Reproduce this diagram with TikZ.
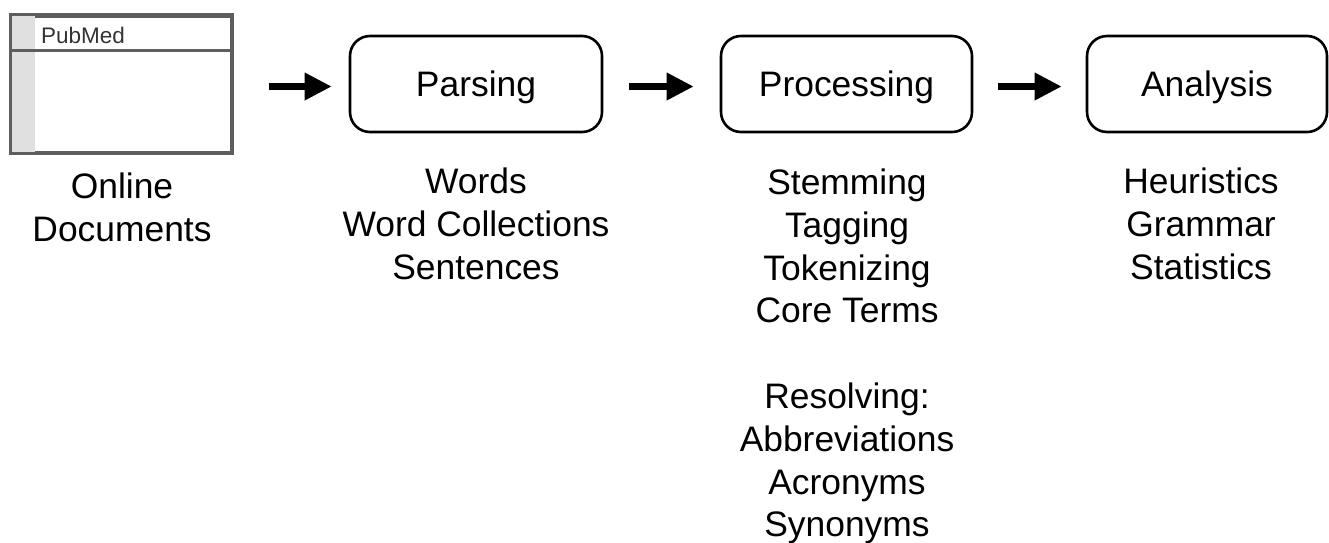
\documentclass[tikz,border=0pt]{standalone}
\usepackage{fontspec}
\setmainfont{Liberation Sans}
\usetikzlibrary{arrows.meta}
\definecolor{docgray}{HTML}{5E5E5E}
\definecolor{stripgray}{HTML}{E0E0E0}
\definecolor{pubtext}{HTML}{333333}
\tikzset{
  stepbox/.style={draw=black, line width=2.6pt, rounded corners=20pt, minimum height=96pt,
    inner sep=0pt, text height=25pt, text depth=0pt, font=\fontsize{35.4}{42.8}\selectfont},
  docbox/.style={draw=docgray, line width=3pt, minimum width=219pt, minimum height=136pt, inner sep=0pt},
  listtext/.style={anchor=north, align=center, inner sep=0pt, font=\fontsize{35.4}{42.8}\selectfont},
  flow/.style={line width=6.5pt, -{Triangle[length=27pt,width=26pt]}},
}
\begin{document}
\begin{tikzpicture}[x=1pt,y=-1pt]
\useasboundingbox (0,0) rectangle (1329,542);
% document icon
\node[docbox] (doc) at (121.5,84) {};
\fill[stripgray] ([xshift=1.5pt,yshift=-1.5pt]doc.north west) rectangle ([xshift=24pt,yshift=1.5pt]doc.south west);
\draw[docgray, line width=3pt] (doc.north west) rectangle (doc.south east);
\draw[docgray, line width=2.5pt] ([yshift=-36pt]doc.north west) -- ([yshift=-36pt]doc.north east);
\node[anchor=base west, inner sep=0pt, text=pubtext, font=\fontsize{22.5}{27}\selectfont] (pubmed) at (41,43) {PubMed};
% step boxes
\node[stepbox, minimum width=252pt] (parsing) at (476,84) {Parsing};
\node[stepbox, minimum width=251pt] (processing) at (846.5,84) {Processing};
\node[stepbox, minimum width=240pt] (analysis) at (1207,84) {Analysis};
% arrows
\draw[flow, shorten <=36pt, shorten >=17pt] ([yshift=-2.5pt]doc.east) -- ([yshift=-2.5pt]parsing.west);
\draw[flow, shorten <=26pt, shorten >=26pt] ([yshift=-2.5pt]parsing.east) -- ([yshift=-2.5pt]processing.west);
\draw[flow, shorten <=25pt, shorten >=24pt] ([yshift=-2.5pt]processing.east) -- ([yshift=-2.5pt]analysis.west);
% lists
\node[listtext] (doclabel) at (122,{198-29.75}) {\strut Online\\Documents};
\node[listtext] (parselist) at (476,{193.5-29.75}) {\strut Words\\Word Collections\\Sentences};
\node[listtext] (proclist) at (847,{194-29.75}) {\strut Stemming\\Tagging\\Tokenizing\\Core Terms\\[42.8pt]Resolving:\\Abbreviations\\Acronyms\\Synonyms};
\node[listtext] (analist) at (1201,{193.5-29.75}) {\strut Heuristics\\Grammar\\Statistics};
\end{tikzpicture}
\end{document}
